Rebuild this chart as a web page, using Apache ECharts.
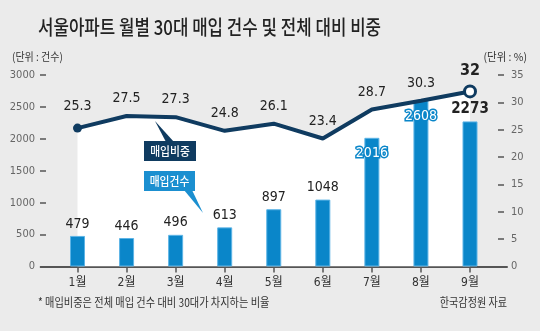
<!DOCTYPE html>
<html>
<head>
<meta charset="utf-8">
<script src="https://cdn.jsdelivr.net/npm/echarts@6/dist/echarts.min.js"></script>
<style>
  html, body { margin: 0; padding: 0; background: #ebebeb; }
  #chart { width: 540px; height: 331px; }
</style>
</head>
<body>
<div id="chart"></div>
<script>
// Monthly purchases of Seoul apartments by buyers in their 30s
const months = ['1월', '2월', '3월', '4월', '5월', '6월', '7월', '8월', '9월'];
const purchases = [479, 446, 496, 613, 897, 1048, 2016, 2608, 2273];
const shares = [25.3, 27.5, 27.3, 24.8, 26.1, 23.4, 28.7, 30.3, 32];

// axis ranges
const countMax = 3000, countStep = 500;
const shareMax = 35, shareStep = 5;

const NARROW = "'Liberation Sans Narrow', 'DejaVu Sans Condensed', 'Noto Sans CJK KR', sans-serif";
const KR = "'Noto Sans CJK KR', sans-serif";
const NAVY = '#0f3b60';
const BLUE = '#0a86c9';

// bars whose value sits inside the bar top
const insideBars = [6, 7];
const lastIdx = months.length - 1;

const barData = purchases.map((v, i) => {
  if (insideBars.includes(i)) {
    return { value: v, label: { position: 'insideTop', distance: 9, color: '#fff',
      textBorderColor: BLUE, textBorderWidth: 3 } };
  }
  if (i === lastIdx) {
    return { value: v, label: { fontWeight: 'bold', fontSize: 15 } };
  }
  return v;
});

const lineData = shares.map((v, i) => {
  if (i === 0) return { value: v, symbol: 'circle', symbolSize: 9 };
  if (i === lastIdx) return { value: v, symbol: 'circle', symbolSize: 11,
    itemStyle: { color: '#fff', borderColor: NAVY, borderWidth: 3 },
    label: { fontWeight: 'bold', fontSize: 16, distance: 6 } };
  // tiny marker hidden under the line so the value label still shows
  return { value: v, symbol: 'circle', symbolSize: 1 };
});

function txt(x, y, text, font, fill, align, scaleX) {
  return { type: 'text', x: x, y: y, scaleX: scaleX, z: 100,
    style: { text: text, font: font, fill: fill,
      textAlign: align, textVerticalAlign: 'middle',
      align: align, verticalAlign: 'middle' } };
}

const graphics = [
  txt(38, 27, '서울아파트 월별 30대 매입 건수 및 전체 대비 비중', '500 20px ' + KR, '#222', 'left', 0.84),
  txt(12, 57, '(단위 : 건수)', '11px ' + KR, '#333', 'left', 0.91),
  txt(527, 57, '(단위 : %)', '11px ' + KR, '#333', 'right', 0.95),
  txt(38, 302, '* 매입비중은 전체 매입 건수 대비 30대가 차지하는 비율', '12px ' + KR, '#333', 'left', 0.85),
  txt(507, 302, '한국감정원 자료', '12px ' + KR, '#333', 'right', 0.84),
  // callout: share
  { type: 'polygon', z: 99, shape: { points: [[155, 121], [166, 142], [174, 142]] }, style: { fill: NAVY } },
  { type: 'rect', z: 99, shape: { x: 144, y: 141, width: 52, height: 20 }, style: { fill: NAVY } },
  txt(170, 151.5, '매입비중', '500 12px ' + KR, '#fff', 'center', 0.9),
  // callout: count
  { type: 'polygon', z: 99, shape: { points: [[184, 190], [192, 190], [203, 213]] }, style: { fill: '#1b8fd0' } },
  { type: 'rect', z: 99, shape: { x: 144, y: 171, width: 51, height: 20 }, style: { fill: '#1b8fd0' } },
  txt(169.5, 181.5, '매입건수', '500 12px ' + KR, '#fff', 'center', 0.9)
];

const plain = v => String(v);

const chart = echarts.init(document.getElementById('chart'), null, { renderer: 'canvas' });
chart.setOption({
  backgroundColor: '#ebebeb',
  animation: false,
  textStyle: { fontFamily: NARROW },
  grid: [
    { left: 77.5, right: 70, top: 75, bottom: 64.5 },
    { left: 40.7, right: 33, top: 75, bottom: 64.5 }
  ],
  xAxis: [
    { type: 'category', data: months, gridIndex: 0, boundaryGap: false,
      axisLine: { show: false },
      axisTick: { show: true, length: 6, lineStyle: { color: '#555', width: 1.5 } },
      axisLabel: { color: '#333', fontSize: 12, margin: 10, fontFamily: NARROW } },
    { type: 'value', gridIndex: 1, min: 0, max: 1, position: 'bottom',
      axisLine: { show: true, lineStyle: { color: '#555', width: 2 } },
      axisTick: { show: false }, axisLabel: { show: false }, splitLine: { show: false } }
  ],
  yAxis: [
    { type: 'value', gridIndex: 0, min: 0, max: countMax, interval: countStep,
      position: 'left', offset: 31.5,
      axisLine: { show: false },
      axisTick: { show: true, length: 6, lineStyle: { color: '#555', width: 1.5 } },
      axisLabel: { color: '#666', fontSize: 11, margin: 11, formatter: plain },
      splitLine: { show: false } },
    { type: 'value', gridIndex: 0, min: 0, max: shareMax, interval: shareStep,
      position: 'right', offset: 28,
      axisLine: { show: false },
      axisTick: { show: true, length: 6, lineStyle: { color: '#555', width: 1.5 } },
      axisLabel: { color: '#666', fontSize: 11, margin: 13, formatter: plain },
      splitLine: { show: false } },
    { type: 'value', gridIndex: 1, min: 0, max: 1, show: false }
  ],
  series: [
    { // white field under the share line
      type: 'line', xAxisIndex: 0, yAxisIndex: 1, data: shares, z: 1, silent: true,
      symbol: 'none', lineStyle: { width: 0, opacity: 0 },
      areaStyle: { color: '#ffffff', opacity: 1 } },
    { type: 'bar', xAxisIndex: 0, yAxisIndex: 0, data: barData, z: 2, barWidth: 15,
      itemStyle: { color: BLUE, borderColor: '#5db4e6', borderWidth: 1 },
      label: { show: true, position: 'top', distance: 5, color: '#222', fontSize: 14,
        fontFamily: NARROW } },
    { type: 'line', xAxisIndex: 0, yAxisIndex: 1, data: lineData, z: 3,
      showSymbol: true, showAllSymbol: true,
      lineStyle: { color: NAVY, width: 4 }, itemStyle: { color: NAVY },
      label: { show: true, position: 'top', distance: 10, color: '#222', fontSize: 14,
        fontFamily: NARROW } }
  ],
  graphic: graphics
});
</script>
</body>
</html>
